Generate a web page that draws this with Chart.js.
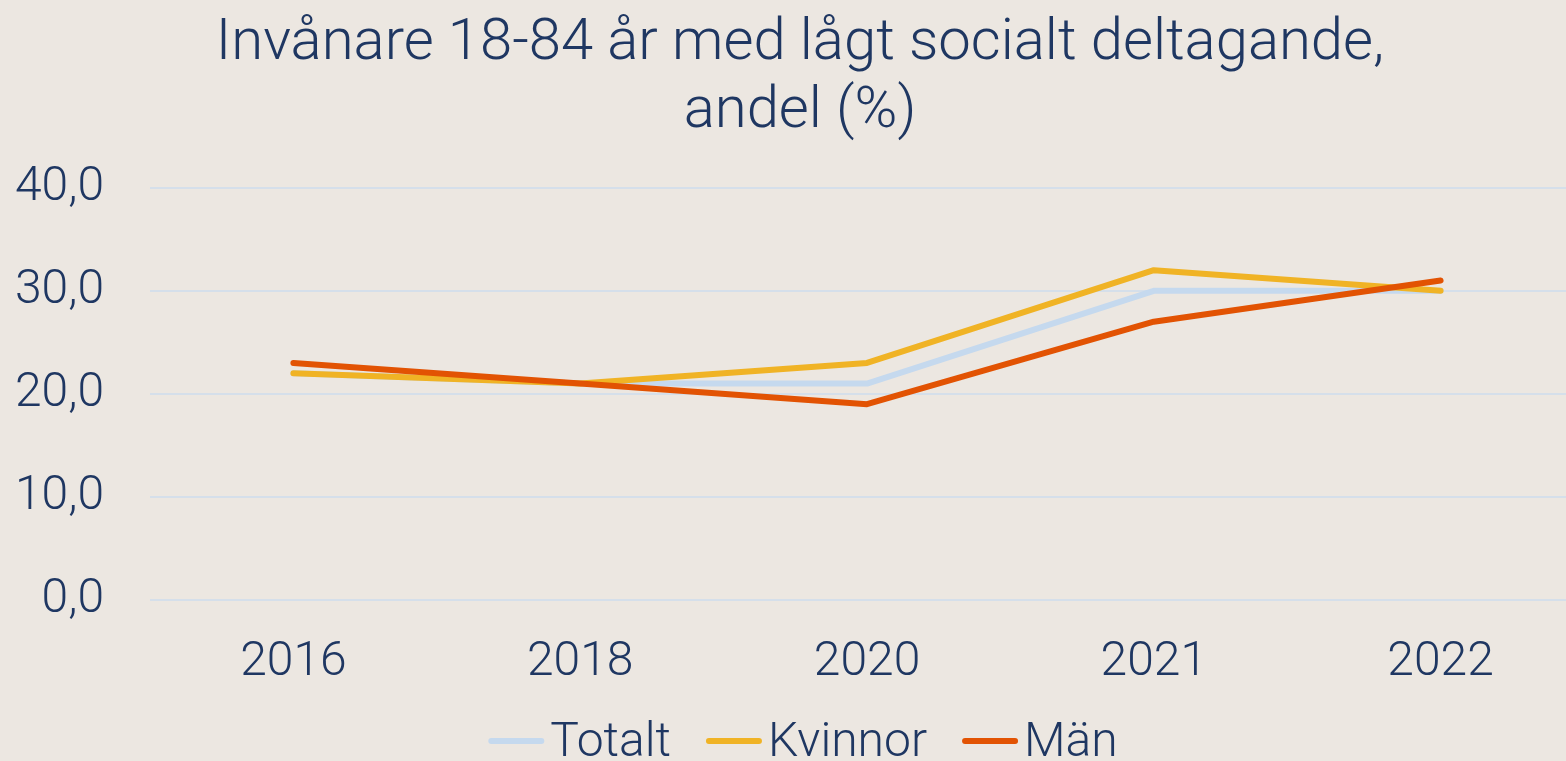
<!DOCTYPE html>
<html>
<head>
<meta charset="utf-8">
<script src="https://cdn.jsdelivr.net/npm/chart.js@4/dist/chart.umd.min.js"></script>
<style>
  html, body { margin: 0; padding: 0; background: #ECE7E1; overflow: hidden; }
  #wrap { width: 1602px; height: 761px; }
</style>
</head>
<body>
<div id="wrap"><canvas id="myChart"></canvas></div>
<script>
const years = ['2016', '2018', '2020', '2021', '2022'];
const totalt = [22, 21, 21, 30, 30];
const kvinnor = [22, 21, 23, 32, 30];
const man = [23, 21, 19, 27, 31];
const yTicks = [0, 10, 20, 30, 40];

const textColor = '#1F3762';
const tickFont = { family: 'Roboto', size: 48, weight: 300 };

// legend drawn by hand: short line, small gap, then text (like the original)
const lineLegend = {
    id: 'lineLegend',
    afterDraw(chart) {
        const c = chart.ctx;
        const sets = chart.data.datasets;
        const lineW = 56, gap = 6, spacing = 35, y = 741;
        c.save();
        c.font = '300 48px Roboto';
        const widths = sets.map(d => c.measureText(d.label).width);
        const total = widths.reduce((a, w) => a + lineW + gap + w, 0) + spacing * (sets.length - 1);
        let x = 803 - total / 2;
        sets.forEach((d, i) => {
            c.strokeStyle = d.borderColor;
            c.lineWidth = 6;
            c.lineCap = 'round';
            c.beginPath();
            c.moveTo(x + 3, y);
            c.lineTo(x + lineW - 3, y);
            c.stroke();
            c.fillStyle = textColor;
            c.textBaseline = 'alphabetic';
            c.fillText(d.label, x + lineW + gap, 756);
            x += lineW + gap + widths[i] + spacing;
        });
        c.restore();
    }
};

const ctx = document.getElementById('myChart').getContext('2d');
const chart = new Chart(ctx, {
    type: 'line',
    data: {
        labels: years,
        datasets: [
            { label: 'Totalt', data: totalt, borderColor: '#C5D9EE', order: 3 },
            { label: 'Kvinnor', data: kvinnor, borderColor: '#F0B325', order: 2 },
            { label: 'Män', data: man, borderColor: '#E25303', order: 1 }
        ].map(d => Object.assign(d, {
            borderWidth: 6,
            pointRadius: 0,
            tension: 0,
            borderCapStyle: 'round',
            borderJoinStyle: 'round'
        }))
    },
    options: {
        responsive: true,
        maintainAspectRatio: false,
        animation: false,
        layout: { padding: { left: 16, right: 18, top: 11, bottom: 69 } },
        plugins: {
            title: {
                display: true,
                text: ['Invånare 18-84 år med lågt socialt deltagande,', 'andel (%)'],
                color: textColor,
                font: { family: 'Roboto', size: 58, weight: 300, lineHeight: 1.17 },
                padding: { top: 0, bottom: 41 }
            },
            legend: { display: false },
            tooltip: { enabled: false }
        },
        scales: {
            x: {
                offset: true,
                grid: { display: false, drawTicks: false },
                border: { display: false },
                afterFit: axis => { axis.height = 92; },
                ticks: { color: textColor, font: tickFont, padding: 34 }
            },
            y: {
                min: 0,
                max: 40,
                afterBuildTicks: axis => { axis.ticks = yTicks.map(v => ({ value: v })); },
                afterFit: axis => { axis.width = 134; },
                grid: { color: '#D5DFEA', lineWidth: 2, drawTicks: false },
                border: { display: false },
                ticks: {
                    color: textColor,
                    font: tickFont,
                    padding: 46,
                    callback: v => v.toFixed(1).replace('.', ',')
                }
            }
        }
    },
    plugins: [lineLegend]
});
</script>
</body>
</html>
